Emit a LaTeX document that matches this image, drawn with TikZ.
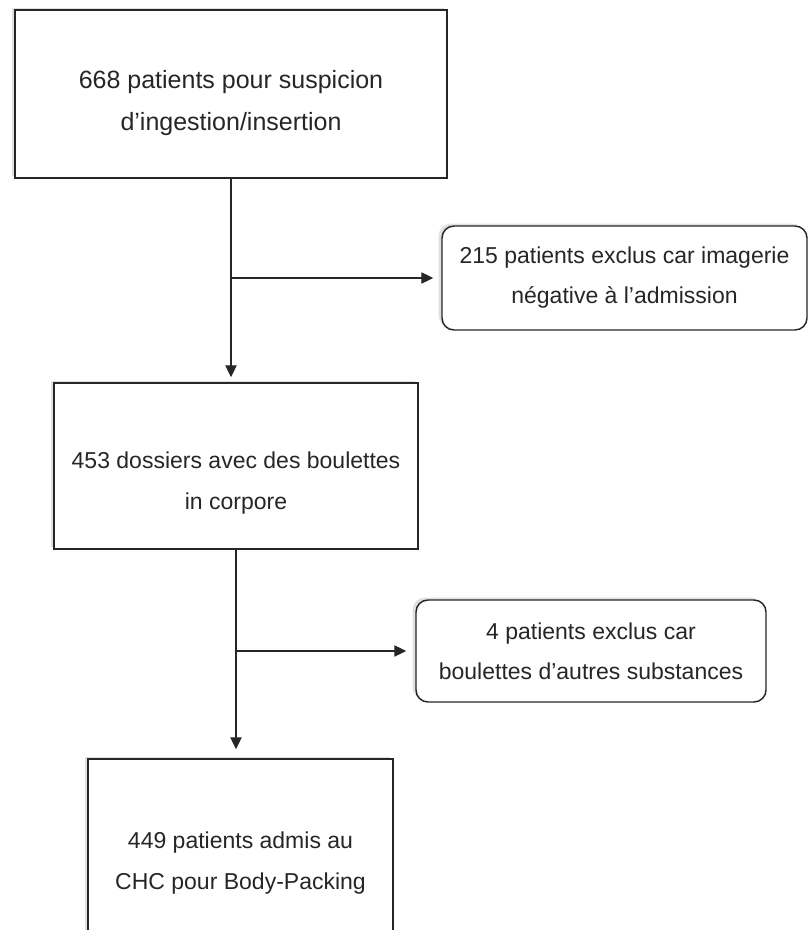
\documentclass[tikz,border=0pt]{standalone}
\usepackage{fontspec}
\setmainfont{Liberation Sans}
\usetikzlibrary{arrows.meta,shadows}

\tikzset{
  box/.style={draw=black!85, line width=1.1pt, fill=white,
    drop shadow={shadow xshift=-2.5pt, shadow yshift=1.8pt, opacity=.2, fill=black!60}},
  roundbox/.style={box, rounded corners=9pt, align=center,
    font=\fontsize{17.25}{30}\selectfont, text=black!85},
  txt/.style={align=center, font=\fontsize{17.25}{31}\selectfont, text=black!85},
  conn/.style={draw=black!85, line width=0.8pt, -{Triangle[length=9pt,width=8.5pt]}},
}

\begin{document}
\begin{tikzpicture}[x=0.75pt, y=-0.75pt]
  \clip (0,0) rectangle (809,930);

  % main column
  \node[box, minimum width=324pt, minimum height=126pt] (start) at (231,94) {};
  \node[txt, font=\fontsize{18.75}{31}\selectfont] (start-txt) at (231,103)
    {668 patients pour suspicion\\d’ingestion/insertion};

  \node[box, minimum width=273pt, minimum height=124.5pt] (dossiers) at (236,466) {};
  \node[txt] (dossiers-txt) at (236,483) {453 dossiers avec des boulettes\\in corpore};

  \node[box, minimum width=228.75pt, minimum height=139.5pt] (admis) at (240.5,852) {};
  \node[txt] (admis-txt) at (240.5,863) {449 patients admis au\\CHC pour Body-Packing};

  % exclusions
  \node[roundbox, minimum width=273.75pt, minimum height=78pt] (excl1) at (624.5,278)
    {215 patients exclus car imagerie\\négative à l’admission};
  \node[roundbox, minimum width=262.5pt, minimum height=76.5pt] (excl2) at (591,651)
    {4 patients exclus car\\boulettes d’autres substances};

  % connectors
  \draw[conn, shorten >=3.75pt] (start.south) -- (start.south |- dossiers.north);
  \coordinate (fork1) at (start.south |- excl1.west);
  \draw[conn, shorten >=6pt] (fork1) -- (excl1.west);

  \draw[conn, shorten >=6.75pt] (dossiers.south) -- (dossiers.south |- admis.north);
  \coordinate (fork2) at (dossiers.south |- excl2.west);
  \draw[conn, shorten >=6.75pt] (fork2) -- (excl2.west);
\end{tikzpicture}
\end{document}
